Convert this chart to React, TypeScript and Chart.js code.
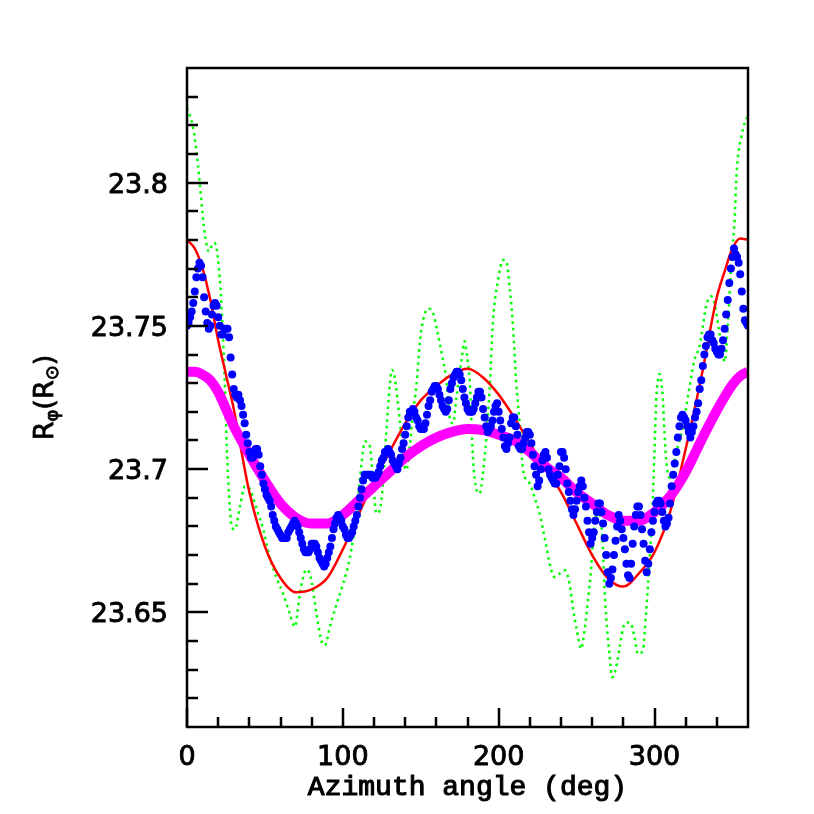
import React, { useEffect, useRef } from 'react';
import { Chart, registerables } from 'chart.js';

Chart.register(...registerables);

// ---------- data ----------
const redAz = [0, 5, 10, 15, 20, 25, 30, 35, 40, 50, 60, 70, 80, 90, 100, 110, 120, 130, 140, 150, 160, 170, 180, 190, 200, 210, 220, 230, 240, 250, 260, 270, 280, 290, 300, 310, 320, 330, 340, 345, 350, 355, 360];
const redR = [23.780, 23.777, 23.770, 23.759, 23.745, 23.733, 23.721, 23.706, 23.692, 23.673, 23.662, 23.657, 23.658, 23.662, 23.672, 23.684, 23.696, 23.706, 23.716, 23.724, 23.729, 23.733, 23.735, 23.732, 23.726, 23.718, 23.709, 23.700, 23.692, 23.681, 23.670, 23.662, 23.659, 23.6636, 23.671, 23.685, 23.707, 23.732, 23.760, 23.769, 23.777, 23.7805, 23.780];

const magAz = [0, 5, 10, 15, 20, 25, 30, 40, 50, 60, 70, 80, 90, 100, 110, 120, 130, 140, 150, 160, 170, 180, 190, 200, 210, 220, 230, 240, 250, 260, 270, 280, 290, 300, 310, 320, 330, 340, 350, 355, 360];
const magR = [23.734, 23.734, 23.733, 23.731, 23.727, 23.721, 23.715, 23.705, 23.696, 23.688, 23.683, 23.681, 23.681, 23.684, 23.689, 23.694, 23.699, 23.704, 23.708, 23.711, 23.713, 23.714, 23.7136, 23.712, 23.710, 23.706, 23.701, 23.697, 23.692, 23.688, 23.684, 23.682, 23.682, 23.685, 23.6905, 23.699, 23.710, 23.7205, 23.7295, 23.7325, 23.734];

// blue: one value per degree, 0..360
const blueR = [
  23.750, 23.751, 23.753, 23.755, 23.758, 23.762, 23.767, 23.770, 23.772, 23.771,
  23.767, 23.760, 23.755, 23.751, 23.749, 23.750, 23.754, 23.757, 23.758, 23.757,
  23.753, 23.750, 23.747, 23.747, 23.749, 23.749, 23.749, 23.746, 23.739, 23.733,
  23.728, 23.726, 23.725, 23.726, 23.724, 23.722, 23.719, 23.716, 23.712, 23.709,
  23.706, 23.704, 23.704, 23.706, 23.707, 23.707, 23.705, 23.701, 23.698, 23.695,
  23.693, 23.691, 23.690, 23.689, 23.687, 23.684, 23.682, 23.680, 23.679, 23.678,
  23.677, 23.676, 23.676, 23.676, 23.676, 23.678, 23.679, 23.680, 23.681, 23.682,
  23.681, 23.680, 23.678, 23.676, 23.674, 23.672, 23.671, 23.671, 23.671, 23.672,
  23.674, 23.674, 23.674, 23.673, 23.671, 23.669, 23.668, 23.667, 23.666, 23.667,
  23.669, 23.671, 23.673, 23.676, 23.679, 23.681, 23.683, 23.684, 23.683, 23.682,
  23.680, 23.679, 23.677, 23.676, 23.676, 23.677, 23.678, 23.680, 23.682, 23.684,
  23.687, 23.690, 23.693, 23.696, 23.698, 23.698, 23.698, 23.698, 23.698, 23.697,
  23.697, 23.697, 23.698, 23.699, 23.701, 23.703, 23.704, 23.706, 23.706, 23.707,
  23.706, 23.705, 23.703, 23.702, 23.701, 23.700, 23.702, 23.704, 23.707, 23.709,
  23.712, 23.715, 23.718, 23.720, 23.720, 23.721, 23.720, 23.718, 23.717, 23.715,
  23.714, 23.714, 23.714, 23.716, 23.719, 23.722, 23.724, 23.727, 23.728, 23.729,
  23.729, 23.728, 23.726, 23.724, 23.722, 23.721, 23.720, 23.721, 23.724, 23.728,
  23.730, 23.732, 23.733, 23.734, 23.734, 23.733, 23.731, 23.728, 23.725, 23.723,
  23.721, 23.720, 23.720, 23.720, 23.721, 23.723, 23.725, 23.727, 23.727, 23.725,
  23.721, 23.718, 23.715, 23.713, 23.714, 23.715, 23.717, 23.720, 23.722, 23.723,
  23.720, 23.717, 23.714, 23.711, 23.708, 23.707, 23.709, 23.711, 23.716, 23.718,
  23.718, 23.715, 23.712, 23.708, 23.707, 23.707, 23.709, 23.711, 23.713, 23.713,
  23.712, 23.709, 23.705, 23.701, 23.698, 23.694, 23.696, 23.700, 23.703, 23.705,
  23.706, 23.704, 23.700, 23.698, 23.697, 23.696, 23.695, 23.695, 23.698, 23.701,
  23.706, 23.706, 23.704, 23.700, 23.695, 23.692, 23.689, 23.686, 23.684, 23.686,
  23.689, 23.692, 23.694, 23.696, 23.694, 23.690, 23.687, 23.682, 23.678, 23.674,
  23.676, 23.678, 23.682, 23.685, 23.688, 23.688, 23.685, 23.681, 23.676, 23.670,
  23.664, 23.660, 23.662, 23.665, 23.670, 23.675, 23.680, 23.684, 23.682, 23.679,
  23.676, 23.672, 23.667, 23.663, 23.662, 23.667, 23.674, 23.680, 23.684, 23.687,
  23.687, 23.684, 23.679, 23.674, 23.668, 23.664, 23.667, 23.672, 23.678, 23.682,
  23.685, 23.688, 23.689, 23.689, 23.688, 23.685, 23.682, 23.680, 23.681, 23.683,
  23.688, 23.694, 23.698, 23.702, 23.706, 23.711, 23.715, 23.718, 23.719, 23.718,
  23.717, 23.715, 23.713, 23.711, 23.713, 23.715, 23.718, 23.720, 23.723, 23.728,
  23.731, 23.736, 23.740, 23.743, 23.746, 23.747, 23.747, 23.745, 23.744, 23.742,
  23.741, 23.740, 23.740, 23.742, 23.745, 23.749, 23.754, 23.759, 23.765, 23.770,
  23.774, 23.777, 23.775, 23.774, 23.772, 23.768, 23.762, 23.756, 23.752, 23.751,
  23.750,
];

const greenAz = [0, 2, 4, 6, 8, 10, 12, 14, 16, 17.5, 19, 20.5, 21.5, 22.5, 23.5, 24.5, 25.5, 26.5, 28.6, 30.8, 34, 37.2, 40.4, 44.7, 48.9, 53.2, 57.5, 61.7, 66, 69.2, 72.4, 76.7, 79.9, 83.1, 86.3, 88.5, 91.7, 96, 100.2, 104.5, 108.8, 112, 114.1, 117.3, 119.4, 121.6, 123.7, 125.9, 128, 130.1, 131.5, 133.3, 136.5, 138.7, 140.8, 143, 145, 147.2, 149.4, 151.5, 154.7, 157.9, 161, 164.3, 166.5, 168.6, 170.7, 172.9, 176.1, 178.2, 179.3, 181.4, 183.5, 185.7, 187.8, 189.9, 192.1, 194.2, 196.4, 199.6, 202.8, 204.9, 207, 209.2, 211.3, 213.5, 215.6, 219.9, 223.1, 226.3, 228.4, 230.6, 232.7, 235.9, 239.1, 242.3, 245.5, 247.6, 249.8, 253, 255.1, 257.3, 259.4, 260.9, 262.6, 264.7, 266.9, 267.9, 269, 271.1, 272.9, 275.4, 277.6, 280.8, 283, 285, 287.2, 289.3, 292.5, 294.7, 296.8, 298.9, 300, 301.1, 302.2, 303.2, 305.4, 306.4, 307.5, 308.6, 309.8, 311.5, 313.9, 318.2, 322.5, 325.7, 328.8, 331, 333.1, 336.3, 338.5, 341.7, 343.8, 345, 347, 349.4, 351.4, 352.6, 353.6, 355.8, 357.9, 360];
const greenR = [23.826, 23.823, 23.819, 23.811, 23.801, 23.789, 23.780, 23.776, 23.778, 23.779, 23.777, 23.770, 23.763, 23.753, 23.741, 23.726, 23.708, 23.696, 23.680, 23.679, 23.687, 23.694, 23.693, 23.686, 23.679, 23.669, 23.662, 23.6565, 23.6495, 23.645, 23.6565, 23.665, 23.661, 23.6495, 23.640, 23.6385, 23.645, 23.653, 23.660, 23.669, 23.6845, 23.702, 23.7096, 23.708, 23.696, 23.6845, 23.6857, 23.696, 23.7136, 23.729, 23.7346, 23.732, 23.717, 23.704, 23.6997, 23.708, 23.7195, 23.729, 23.744, 23.752, 23.756, 23.7544, 23.747, 23.738, 23.731, 23.718, 23.716, 23.725, 23.738, 23.7446, 23.741, 23.731, 23.704, 23.693, 23.6915, 23.6985, 23.711, 23.728, 23.752, 23.766, 23.773, 23.7725, 23.7637, 23.750, 23.730, 23.716, 23.700, 23.695, 23.690, 23.6845, 23.679, 23.673, 23.667, 23.6623, 23.6635, 23.6647, 23.660, 23.6518, 23.6448, 23.6373, 23.6437, 23.6542, 23.6658, 23.6775, 23.6833, 23.6845, 23.6728, 23.6588, 23.6483, 23.6355, 23.6274, 23.6308, 23.6378, 23.646, 23.6465, 23.646, 23.6414, 23.6355, 23.6367, 23.6507, 23.6682, 23.6892, 23.7066, 23.7241, 23.7311, 23.7332, 23.7241, 23.7125, 23.7032, 23.6985, 23.697, 23.699, 23.7055, 23.7148, 23.7288, 23.7381, 23.7428, 23.7498, 23.7568, 23.7603, 23.7579, 23.7474, 23.7405, 23.7375, 23.7498, 23.7731, 23.787, 23.8022, 23.8092, 23.8162, 23.8209, 23.8235];

const xMajorTicks = [0, 100, 200, 300];
const xMajorLabels = ['0', '100', '200', '300'];
const xMinorTicks = [20, 40, 60, 80, 120, 140, 160, 180, 220, 240, 260, 280, 320, 340];
const yMajorTicks = [23.65, 23.7, 23.75, 23.8];
const yMajorLabels = ['23.65', '23.7', '23.75', '23.8'];
const yMinorTicks = [23.62, 23.63, 23.64, 23.66, 23.67, 23.68, 23.69, 23.71, 23.72, 23.73, 23.74, 23.76, 23.77, 23.78, 23.79, 23.81, 23.82, 23.83];

const X_MIN = 0;
const X_MAX = 360;
const Y_MIN = 23.61;
const Y_MAX = 23.84;

const xTitle = 'Azimuth angle (deg)';

const pairs = (xs: number[], ys: number[]) => xs.map((x, i) => ({ x, y: ys[i] }));

const drawText = (ctx: any, t: string, x: number, y: number, sw: number) => {
  ctx.fillText(t, x, y);
  if (sw > 0) {
    ctx.lineWidth = sw;
    ctx.strokeText(t, x, y);
  }
};

const framePlugin = {
  id: 'framePlugin',
  afterDatasetsDraw(chart: any) {
    const { ctx, chartArea: a, scales } = chart;
    const xs = scales.x;
    const ys = scales.y;
    ctx.save();
    ctx.strokeStyle = '#000';
    ctx.fillStyle = '#000';
    ctx.lineWidth = 2.5;
    ctx.beginPath();
    for (const v of yMajorTicks) {
      const p = Math.round(ys.getPixelForValue(v));
      ctx.moveTo(a.left, p);
      ctx.lineTo(a.left + 21, p);
    }
    for (const v of yMinorTicks) {
      const p = Math.round(ys.getPixelForValue(v));
      ctx.moveTo(a.left, p);
      ctx.lineTo(a.left + 11, p);
    }
    for (const v of xMajorTicks) {
      const p = Math.round(xs.getPixelForValue(v));
      ctx.moveTo(p, a.bottom);
      ctx.lineTo(p, a.bottom - 19);
    }
    for (const v of xMinorTicks) {
      const p = Math.round(xs.getPixelForValue(v));
      ctx.moveTo(p, a.bottom);
      ctx.lineTo(p, a.bottom - 10);
    }
    ctx.stroke();
    ctx.strokeRect(a.left, a.top, a.right - a.left, a.bottom - a.top);

    // tick labels
    ctx.font = "27px 'DejaVu Sans'";
    ctx.textAlign = 'right';
    ctx.textBaseline = 'alphabetic';
    yMajorTicks.forEach((v, i) => {
      const p = ys.getPixelForValue(v);
      drawText(ctx, yMajorLabels[i], a.left - 19, p + 10, 0.9);
    });
    ctx.textAlign = 'center';
    xMajorTicks.forEach((v, i) => {
      const p = xs.getPixelForValue(v);
      drawText(ctx, xMajorLabels[i], p, a.bottom + 38, 0.9);
    });

    // x title
    ctx.font = "28px 'Liberation Mono'";
    ctx.textAlign = 'center';
    drawText(ctx, xTitle, (a.left + a.right) / 2, 795, 1.1);

    // y title: R_phi (R_sun)
    const big = "27px 'DejaVu Sans'";
    const small = "18px 'DejaVu Sans'";
    const parts = [
      { t: 'R', f: big, dy: 0 },
      { t: 'φ', f: small, dy: 5 },
      { t: '(R', f: big, dy: 0 },
      { t: '⊙', f: small, dy: 5 },
      { t: ')', f: big, dy: 0 },
    ];
    let total = 0;
    const widths: number[] = [];
    for (const p of parts) {
      ctx.font = p.f;
      const w = ctx.measureText(p.t).width;
      widths.push(w);
      total += w;
    }
    ctx.translate(53, (a.top + a.bottom) / 2);
    ctx.rotate(-Math.PI / 2);
    ctx.textAlign = 'left';
    let cx = -total / 2;
    parts.forEach((p, i) => {
      ctx.font = p.f;
      drawText(ctx, p.t, cx, p.dy, 0.8);
      cx += widths[i];
    });
    ctx.restore();
  },
};

export default function App() {
  const ref = useRef<HTMLCanvasElement | null>(null);
  useEffect(() => {
    document.body.style.margin = '0';
    const canvas = ref.current;
    if (!canvas) return;
    const chart = new Chart(canvas, {
      type: 'scatter',
      data: {
        datasets: [
          {
            label: 'blue',
            data: blueR.map((y, i) => ({ x: i, y })),
            showLine: false,
            pointRadius: 4,
            pointBorderWidth: 0,
            pointBackgroundColor: '#0000ff',
            pointBorderColor: '#0000ff',
            order: 0,
          },
          {
            label: 'magenta',
            data: pairs(magAz, magR),
            showLine: true,
            borderColor: '#ff00ff',
            borderWidth: 10,
            pointRadius: 0,
            cubicInterpolationMode: 'monotone',
            order: 1,
          },
          {
            label: 'red',
            data: pairs(redAz, redR),
            showLine: true,
            borderColor: '#ff0000',
            borderWidth: 2.5,
            pointRadius: 0,
            cubicInterpolationMode: 'monotone',
            order: 2,
          },
          {
            label: 'green',
            data: pairs(greenAz, greenR),
            showLine: true,
            borderColor: '#00ff00',
            borderWidth: 2.5,
            borderDash: [2.5, 4],
            pointRadius: 0,
            cubicInterpolationMode: 'monotone',
            order: 3,
          },
        ] as any,
      },
      options: {
        animation: false,
        responsive: true,
        maintainAspectRatio: false,
        devicePixelRatio: 1,
        events: [],
        layout: { padding: { left: 0, top: 68, right: 66, bottom: 0 } },
        plugins: { legend: { display: false }, tooltip: { enabled: false } },
        scales: {
          x: {
            type: 'linear',
            min: X_MIN,
            max: X_MAX,
            grid: { display: false, drawTicks: false },
            border: { display: false },
            afterBuildTicks: (s: any) => {
              s.ticks = xMajorTicks.map((v) => ({ value: v }));
            },
            afterFit: (s: any) => {
              s.height = 87;
            },
            ticks: { display: false },
          },
          y: {
            type: 'linear',
            min: Y_MIN,
            max: Y_MAX,
            grid: { display: false, drawTicks: false },
            border: { display: false },
            afterBuildTicks: (s: any) => {
              s.ticks = yMajorTicks.map((v) => ({ value: v }));
            },
            afterFit: (s: any) => {
              s.width = 187;
            },
            ticks: { display: false },
          },
        },
      } as any,
      plugins: [framePlugin],
    });
    return () => chart.destroy();
  }, []);
  return (
    <div style={{ width: 814, height: 814, position: 'relative', background: '#fff' }}>
      <canvas ref={ref} />
    </div>
  );
}
